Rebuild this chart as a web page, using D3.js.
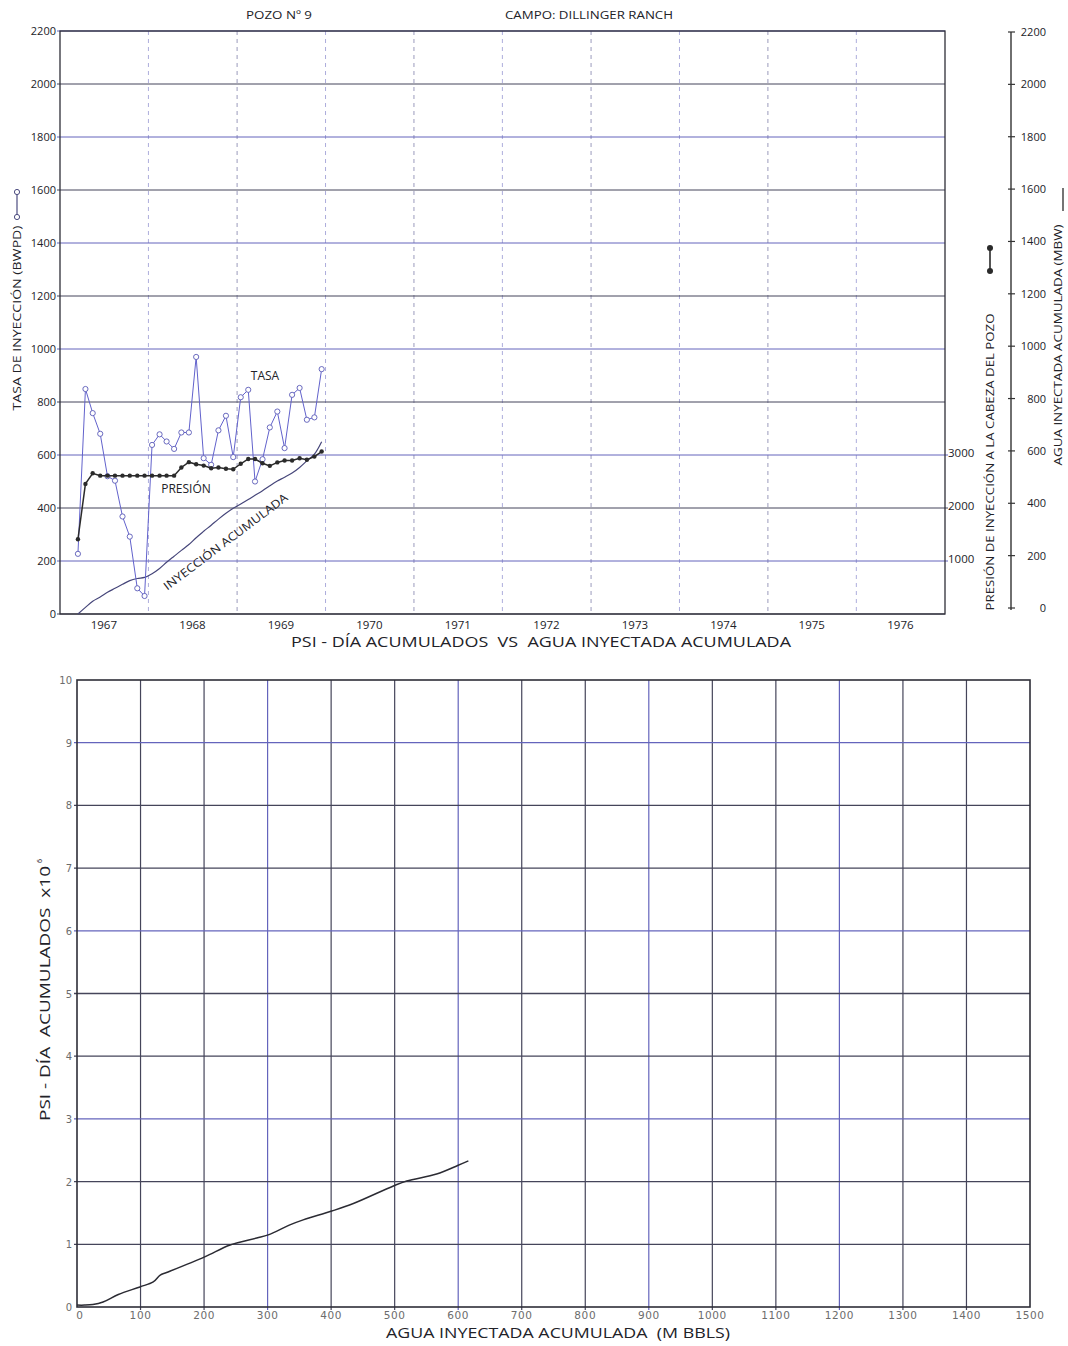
<!DOCTYPE html>
<html>
<head>
<meta charset="utf-8">
<script src="https://cdn.jsdelivr.net/npm/d3@7"></script>
<style>
  body { margin: 0; background: #fff; }
  svg { display: block; }
  text { font-family: "Open Sans", "Liberation Sans", sans-serif; fill: #222228; font-weight: 500; }
  .num { font-family: "DejaVu Sans", sans-serif; fill: #6c6c6c; font-weight: 400; }
</style>
</head>
<body>
<svg id="chart" width="1068" height="1346"></svg>
<script>
// ---- Pozo Nº 9, monthly readings (mid-month) ----
const months = [
  "1967-03","1967-04","1967-05","1967-06","1967-07","1967-08","1967-09","1967-10","1967-11","1967-12",
  "1968-01","1968-02","1968-03","1968-04","1968-05","1968-06","1968-07","1968-08","1968-09","1968-10","1968-11","1968-12",
  "1969-01","1969-02","1969-03","1969-04","1969-05","1969-06","1969-07","1969-08","1969-09","1969-10","1969-11","1969-12"
];
// injection rate, BWPD
const tasaBWPD = [227, 849, 758, 680, 520, 503, 368, 292, 97, 68,
  638, 678, 651, 623, 685, 685, 970, 588, 563, 693, 748, 592,
  818, 846, 500, 584, 704, 764, 626, 827, 853, 733, 742, 924];
// wellhead injection pressure, psi
const presionPSI = [1410, 2455, 2655, 2610, 2610, 2610, 2610, 2610, 2610, 2610,
  2610, 2610, 2610, 2610, 2765, 2865, 2825, 2800, 2750, 2765, 2740, 2730,
  2835, 2925, 2925, 2845, 2795, 2860, 2895, 2895, 2940, 2910, 2970, 3065];
// cumulative injected water, MBW
const inyAcumMBW = [0, 25, 48, 64, 82, 97, 112, 126, 134, 138,
  152, 172, 195, 218, 240, 262, 288, 312, 335, 358, 380, 399,
  415, 432, 448, 465, 484, 502, 516, 532, 553, 578, 603, 650];

const yearLabels = ["1967","1968","1969","1970","1971","1972","1973","1974","1975","1976"];
const tasaTicks = [0,200,400,600,800,1000,1200,1400,1600,1800,2000,2200];
const presionTicks = [1000,2000,3000];
const aguaTicks = [0,200,400,600,800,1000,1200,1400,1600,1800,2000,2200];

// ---- cumulative psi-day vs cumulative injected water ----
const aguaAcumMBBL = [0, 12, 25, 41, 65, 99, 120, 131, 141, 201, 241, 283, 301, 335, 356, 401, 435, 498, 519, 566, 600, 616];
const psiDiaMillones = [0.03, 0.03, 0.04, 0.08, 0.2, 0.32, 0.40, 0.51, 0.55, 0.80, 0.99, 1.10, 1.15, 1.31, 1.39, 1.53, 1.65, 1.93, 2.01, 2.12, 2.26, 2.33];
const aguaTicksBottom = [0,100,200,300,400,500,600,700,800,900,1000,1100,1200,1300,1400,1500];
const psiDiaTicks = [0,1,2,3,4,5,6,7,8,9,10];

const svg = d3.select("#chart");
const DARK = "#45455a", BLUE = "#6464bc";

// ================= upper chart =================
const T = { left: 60, right: 945, top: 31, bottom: 614 };
const parse = d3.timeParse("%Y-%m");
const midMonth = s => { const d = parse(s); return new Date(d.getFullYear(), d.getMonth(), 16); };
const x = d3.scaleTime().domain([new Date(1967, 0, 1), new Date(1977, 0, 1)]).range([T.left, T.right]);
const y = d3.scaleLinear().domain([0, 2200]).range([T.bottom, T.top]);
const yP = d3.scaleLinear().domain([0, 11000]).range([T.bottom, T.top]);
const yA = d3.scaleLinear().domain([0, 2200]).range([608, 32]);

const gTop = svg.append("g");

// year dividers (light dashed)
const yearBounds = d3.range(1968, 1977).map(yr => new Date(yr, 0, 1));
gTop.selectAll("line.v").data(yearBounds).join("line")
  .attr("x1", d => x(d)).attr("x2", d => x(d))
  .attr("y1", T.top).attr("y2", T.bottom)
  .attr("stroke", (d, i) => i % 2 ? "#8e8eb4" : "#a4a4d8")
  .attr("stroke-width", 0.9).attr("stroke-dasharray", "4,4");

// horizontal grid
gTop.selectAll("line.h").data(tasaTicks).join("line")
  .attr("x1", T.left - 3).attr("x2", d => d > 0 && d <= 600 ? T.right + 3 : T.right)
  .attr("y1", d => y(d)).attr("y2", d => y(d))
  .attr("stroke", (d, i) => i % 2 ? BLUE : DARK)
  .attr("stroke-width", 1);

// frame
gTop.append("rect").attr("x", T.left).attr("y", T.top)
  .attr("width", T.right - T.left).attr("height", T.bottom - T.top)
  .attr("fill", "none").attr("stroke", "#2e2e38").attr("stroke-width", 1.3);

// left tick labels
gTop.selectAll("text.yl").data(tasaTicks).join("text")
  .attr("x", T.left - 4).attr("y", d => y(d) + 4)
  .attr("text-anchor", "end").attr("font-size", 11).text(d => d);

// year labels
gTop.selectAll("text.yr").data(yearLabels).join("text")
  .attr("x", d => x(new Date(+d, 6, 1))).attr("y", 629)
  .attr("text-anchor", "middle").attr("font-size", 11.5).text(d => d);

// pressure tick labels on right border
gTop.selectAll("text.pl").data(presionTicks).join("text")
  .attr("x", T.right + 3).attr("y", d => yP(d) + 2)
  .attr("font-size", 11.5).text(d => d);

// cumulative water axis
const AX = 1011;
gTop.append("line").attr("x1", AX).attr("x2", AX).attr("y1", yA(2200)).attr("y2", yA(0) + 2)
  .attr("stroke", "#333").attr("stroke-width", 1.4);
gTop.selectAll("line.at").data(aguaTicks).join("line")
  .attr("x1", AX - 3).attr("x2", AX + 4).attr("y1", d => yA(d)).attr("y2", d => yA(d))
  .attr("stroke", "#333").attr("stroke-width", 1.2);
gTop.selectAll("text.al").data(aguaTicks).join("text")
  .attr("x", 1046).attr("y", d => yA(d) + 4)
  .attr("text-anchor", "end").attr("font-size", 11).text(d => d);

// axis titles
function vTitle(cx, cy, label, len, size) {
  gTop.append("text").attr("transform", `translate(${cx},${cy}) rotate(-90)`)
    .attr("text-anchor", "middle").attr("font-size", size)
    .attr("textLength", len).attr("lengthAdjust", "spacingAndGlyphs").text(label);
}
vTitle(21, 318, "TASA DE INYECCIÓN (BWPD)", 185, 11);
vTitle(994, 462, "PRESIÓN DE INYECCIÓN A LA CABEZA DEL POZO", 297, 11);
vTitle(1062, 345, "AGUA INYECTADA ACUMULADA (MBW)", 241, 11);

// legend glyphs next to the titles
gTop.append("line").attr("x1", 17).attr("x2", 17).attr("y1", 192).attr("y2", 217)
  .attr("stroke", "#4c4c80").attr("stroke-width", 1.2);
gTop.selectAll("circle.lg").data([192, 217]).join("circle")
  .attr("cx", 17).attr("cy", d => d).attr("r", 2.6)
  .attr("fill", "#fff").attr("stroke", "#4c4c80").attr("stroke-width", 1);
gTop.append("line").attr("x1", 990).attr("x2", 990).attr("y1", 248).attr("y2", 271)
  .attr("stroke", "#2a2a2a").attr("stroke-width", 1.6);
gTop.selectAll("circle.lp").data([248, 271]).join("circle")
  .attr("cx", 990).attr("cy", d => d).attr("r", 3).attr("fill", "#2a2a2a");
gTop.append("line").attr("x1", 1063).attr("x2", 1063).attr("y1", 188).attr("y2", 211)
  .attr("stroke", "#2a2a2a").attr("stroke-width", 1.3);

// header
gTop.append("text").attr("x", 279).attr("y", 19).attr("text-anchor", "middle")
  .attr("font-size", 11).attr("textLength", 66).attr("lengthAdjust", "spacingAndGlyphs").text("POZO Nº 9");
gTop.append("text").attr("x", 589).attr("y", 19).attr("text-anchor", "middle")
  .attr("font-size", 11).attr("textLength", 168).attr("lengthAdjust", "spacingAndGlyphs").text("CAMPO: DILLINGER RANCH");

// series
const pts = months.map((m, i) => ({ t: midMonth(m), tasa: tasaBWPD[i], pres: presionPSI[i], acum: inyAcumMBW[i] }));

gTop.append("path").datum(pts)
  .attr("d", d3.line().x(d => x(d.t)).y(d => y(d.acum)).curve(d3.curveCatmullRom))
  .attr("fill", "none").attr("stroke", "#46467a").attr("stroke-width", 1.2);

gTop.append("path").datum(pts)
  .attr("d", d3.line().x(d => x(d.t)).y(d => y(d.tasa)))
  .attr("fill", "none").attr("stroke", "#6262cc").attr("stroke-width", 1);
gTop.selectAll("circle.tasa").data(pts).join("circle")
  .attr("cx", d => x(d.t)).attr("cy", d => y(d.tasa)).attr("r", 2.6)
  .attr("fill", "#fff").attr("stroke", "#5a5ab8").attr("stroke-width", 0.9);

gTop.append("path").datum(pts)
  .attr("d", d3.line().x(d => x(d.t)).y(d => yP(d.pres)))
  .attr("fill", "none").attr("stroke", "#2b2b2b").attr("stroke-width", 1.5);
gTop.selectAll("circle.pres").data(pts).join("circle")
  .attr("cx", d => x(d.t)).attr("cy", d => yP(d.pres)).attr("r", 2.2)
  .attr("fill", "#2b2b2b");

// in-plot labels
gTop.append("text").attr("x", 265).attr("y", 380).attr("text-anchor", "middle")
  .attr("font-size", 12).text("TASA");
gTop.append("text").attr("x", 186).attr("y", 493).attr("text-anchor", "middle")
  .attr("font-size", 12).text("PRESIÓN");
gTop.append("text").attr("transform", "translate(228,545) rotate(-37)")
  .attr("text-anchor", "middle").attr("font-size", 11.5)
  .attr("textLength", 152).attr("lengthAdjust", "spacingAndGlyphs").text("INYECCIÓN ACUMULADA");

// title between the charts
gTop.append("text").attr("x", 541).attr("y", 647).attr("text-anchor", "middle")
  .attr("font-size", 15).style("white-space", "pre")
  .attr("textLength", 500).attr("lengthAdjust", "spacingAndGlyphs")
  .text("PSI - DÍA ACUMULADOS  VS  AGUA INYECTADA ACUMULADA");

// ================= lower chart =================
const B = { left: 77, right: 1030, top: 680, bottom: 1307 };
const xb = d3.scaleLinear().domain([0, 1500]).range([B.left, B.right]);
const yb = d3.scaleLinear().domain([0, 10]).range([B.bottom, B.top]);
const gBot = svg.append("g");

gBot.selectAll("line.bv").data(aguaTicksBottom.slice(1, -1)).join("line")
  .attr("x1", d => xb(d)).attr("x2", d => xb(d)).attr("y1", B.top).attr("y2", B.bottom + 3)
  .attr("stroke", (d, i) => i % 3 === 2 ? BLUE : DARK).attr("stroke-width", 1.2);
gBot.selectAll("line.bh").data(psiDiaTicks.slice(1, -1)).join("line")
  .attr("x1", B.left - 3).attr("x2", B.right).attr("y1", d => yb(d)).attr("y2", d => yb(d))
  .attr("stroke", (d, i) => i % 3 === 2 ? BLUE : DARK).attr("stroke-width", 1.3);
gBot.append("rect").attr("x", B.left).attr("y", B.top)
  .attr("width", B.right - B.left).attr("height", B.bottom - B.top)
  .attr("fill", "none").attr("stroke", "#2e2e38").attr("stroke-width", 1.6);

gBot.selectAll("text.bx").data(aguaTicksBottom).join("text").attr("class", "num")
  .attr("x", d => xb(d) + (d === 0 ? 3 : 0)).attr("y", 1319)
  .attr("text-anchor", "middle").attr("font-size", 10.5).attr("letter-spacing", 0.6)
  .text(d => d);
gBot.selectAll("text.by").data(psiDiaTicks).join("text").attr("class", "num")
  .attr("x", B.left - 5).attr("y", d => yb(d) + 4)
  .attr("text-anchor", "end").attr("font-size", 10).text(d => d);

gBot.append("text").attr("x", 558).attr("y", 1338).attr("text-anchor", "middle")
  .attr("font-size", 15).style("white-space", "pre")
  .attr("textLength", 344).attr("lengthAdjust", "spacingAndGlyphs")
  .text("AGUA INYECTADA ACUMULADA  (M BBLS)");

const yt = gBot.append("g").attr("transform", "translate(50,1121) rotate(-90)");
yt.append("text").attr("x", 0).attr("y", 0).attr("font-size", 14.5).style("white-space", "pre")
  .attr("textLength", 255).attr("lengthAdjust", "spacingAndGlyphs")
  .text("PSI - DÍA  ACUMULADOS  x10");
yt.append("text").attr("x", 258).attr("y", -8).attr("font-size", 7).text("6");

const curvePts = aguaAcumMBBL.map((a, i) => [a, psiDiaMillones[i]]);
gBot.append("path").datum(curvePts)
  .attr("d", d3.line().x(d => xb(d[0])).y(d => yb(d[1])).curve(d3.curveCatmullRom))
  .attr("fill", "none").attr("stroke", "#2b2b33").attr("stroke-width", 1.5);
</script>
</body>
</html>
